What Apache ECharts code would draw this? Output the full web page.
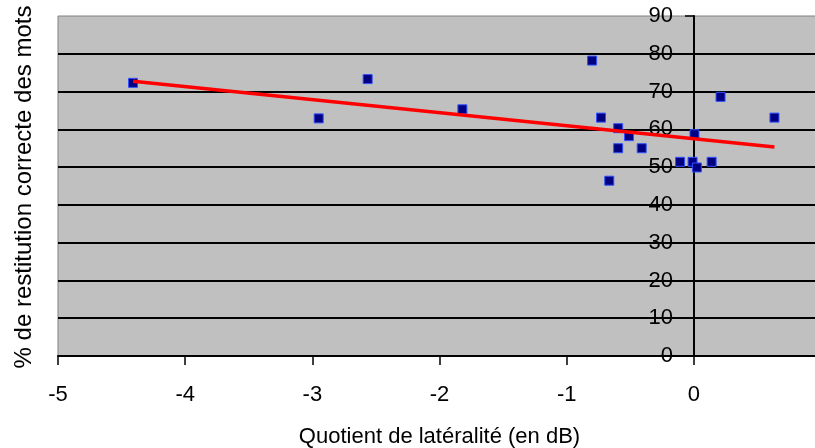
<!DOCTYPE html>
<html>
<head>
<meta charset="utf-8">
<script src="https://cdn.jsdelivr.net/npm/echarts@6/dist/echarts.min.js"></script>
<style>
html,body{margin:0;padding:0;background:#fff;}
#chart{width:815px;height:448px;}
</style>
</head>
<body>
<div id="chart"></div>
<script>
// Data
const quotientX = [-4.41, -2.95, -2.565, -1.82, -0.80, -0.73, -0.665, -0.595, -0.595, -0.51, -0.41, -0.108, -0.01, 0.005, 0.024, 0.14, 0.21, 0.634];
const restitutionY = [72.3, 62.9, 73.3, 65.3, 78.2, 63.1, 46.4, 60.3, 55.0, 58.2, 55.0, 51.4, 51.4, 58.7, 49.9, 51.4, 68.6, 63.1];
const trendX = [-4.41, 0.634];
const trendY = [72.7, 55.3];
const xTitle = 'Quotient de latéralité (en dB)';
const yTitle = '% de restitution correcte des mots';

const FONT = "'Liberation Sans', Arial, sans-serif";
const GRID_LEFT = 58, GRID_RIGHT = -6, W = 815;
const X_MIN = -5, X_MAX = 1;
// shift the y axis so it sits on x = 0 (as in the reference)
const yOffset = -Math.round((0 - X_MIN) / (X_MAX - X_MIN) * (W - GRID_LEFT - GRID_RIGHT));

const chart = echarts.init(document.getElementById('chart'));
chart.setOption({
  animation: false,
  backgroundColor: '#ffffff',
  grid: {
    left: GRID_LEFT, top: 16, right: GRID_RIGHT, bottom: 92,
    show: true, backgroundColor: '#c0c0c0', borderColor: '#808080', borderWidth: 1,
    containLabel: false, outerBoundsMode: 'none'
  },
  xAxis: {
    type: 'value', min: X_MIN, max: X_MAX, interval: 1,
    axisLine: { show: true, onZero: false, lineStyle: { color: '#000', width: 2 } },
    axisTick: { show: true, length: 9, lineStyle: { color: '#000', width: 1.5 } },
    axisLabel: { color: '#000', fontSize: 22, fontFamily: FONT, margin: 28 },
    splitLine: { show: false },
    name: xTitle, nameLocation: 'middle', nameGap: 70,
    nameTextStyle: { color: '#000', fontSize: 22, fontFamily: FONT }
  },
  yAxis: {
    type: 'value', min: 0, max: 90, interval: 10,
    offset: yOffset,
    axisLine: { show: true, onZero: false, lineStyle: { color: '#000', width: 2 } },
    axisTick: { show: true, length: 9, lineStyle: { color: '#000', width: 1.5 } },
    axisLabel: { color: '#000', fontSize: 22, fontFamily: FONT, margin: 21 },
    splitLine: { show: true, showMinLine: false, showMaxLine: false, lineStyle: { color: '#000', width: 2 } }
  },
  graphic: [{
    type: 'text', x: 24, y: 187, rotation: Math.PI / 2,
    style: { text: yTitle, fill: '#000', font: '24px ' + FONT, textAlign: 'center', textVerticalAlign: 'middle' }
  }],
  series: [
    {
      type: 'scatter',
      data: quotientX.map((x, i) => [x, restitutionY[i]]),
      symbol: 'rect', symbolSize: 9,
      itemStyle: { color: '#000080', borderColor: '#3050ff', borderWidth: 1, opacity: 1 },
      z: 3
    },
    {
      type: 'line',
      data: trendX.map((x, i) => [x, trendY[i]]),
      showSymbol: false, symbol: 'none',
      lineStyle: { color: '#ff0000', width: 3.5 },
      z: 4
    }
  ]
});
</script>
</body>
</html>
